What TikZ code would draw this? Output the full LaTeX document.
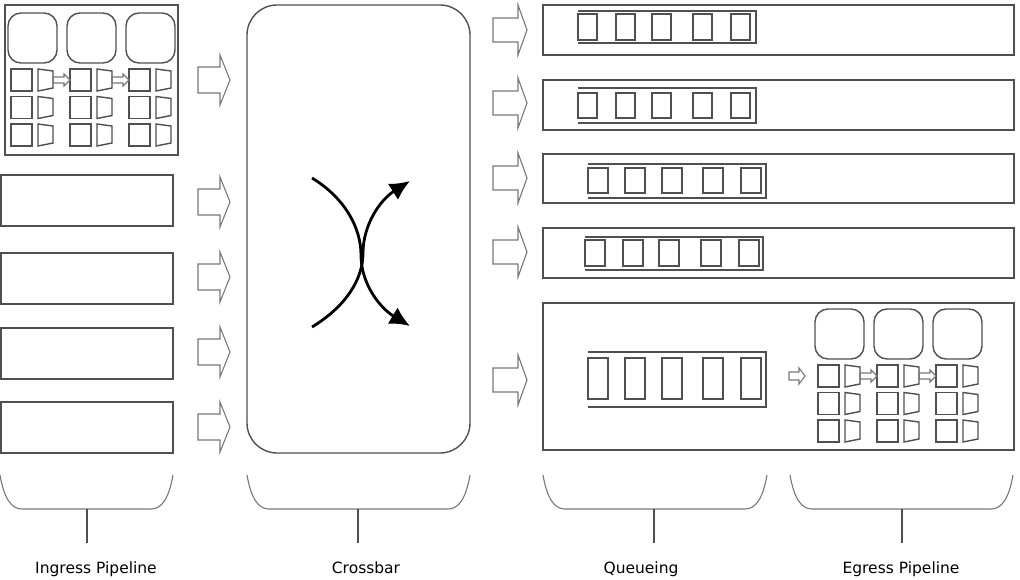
\documentclass[tikz,border=0pt]{standalone}
\usepackage{fontspec}
\setmainfont{DejaVu Sans}
\usetikzlibrary{arrows.meta}

\definecolor{linegray}{RGB}{80,80,80}
\definecolor{lightline}{RGB}{120,120,120}

\tikzset{
  boxline/.style={draw=linegray, line width=1.4pt},
  arrowline/.style={draw=lightline, line width=1.1pt, line join=miter},
  braceline/.style={draw=lightline, line width=1.1pt},
  stemline/.style={draw=linegray, line width=1.1pt},
  crossline/.style={draw=black, line width=2.8pt, -{Latex[length=20pt, width=19pt]}},
  stagelabel/.style={anchor=base, inner sep=0pt, font=\fontsize{15.5}{18}\selectfont}
}

% hollow block arrow: x, y, shaft length, head length, shaft half height, head half height
\newcommand{\hollowarrow}[6]{%
  \draw[arrowline] (#1,#2) ++(0,-#5) -- ++(#3,0) -- ++(0,#5-#6) -- ++(#4,#6)
    -- ++(-#4,#6) -- ++(0,#5-#6) -- ++(-#3,0) -- cycle;}

% match-action stages: memories on top, three rows of tables and actions
\newcommand{\stagegrid}{%
  \foreach \c in {0,1,2} {
    \draw[boxline, rounded corners=13pt] (59*\c,0) rectangle ++(49,50); % memory
    \foreach \r in {0,1,2} {
      \draw[boxline] (3+59*\c,56+27.5*\r) rectangle ++(21,22); % table
      \draw[boxline] (30+59*\c,56+27.5*\r) -- ++(15,2) -- ++(0,17) -- ++(-15,3) -- cycle; % action
    }
  }
  \foreach \c in {0,1} {
    \hollowarrow{45+59*\c}{67}{11}{6}{3}{6} % stage to stage
  }}

\begin{document}
\begin{tikzpicture}[x=1pt, y=-1pt]
  \useasboundingbox (0,0) rectangle (1020,580);

  % ingress pipeline
  \draw[boxline] (5,5) rectangle (178,155); % first pipe
  \begin{scope}[shift={(8,13)}]
    \stagegrid
  \end{scope}
  \foreach \y in {175,253,328,402} {
    \draw[boxline] (1,\y) rectangle (173,\y+51); % other pipes
  }
  \foreach \y in {80,202,277,352,427} {
    \hollowarrow{198}{\y}{22}{10}{13}{25}
  }

  % crossbar
  \draw[boxline, rounded corners=30pt] (247,5) rectangle (470,453);
  \draw[crossline] (312,178) .. controls (345,198) and (361,228) .. (361,255)
    .. controls (361,284) and (380,308) .. (410,326);
  \draw[crossline] (312,327) .. controls (345,307) and (363,280) .. (363,253)
    .. controls (363,225) and (380,200) .. (410,181);

  % queueing
  \foreach \y in {30,103,178,252,380} {
    \hollowarrow{493}{\y}{25}{9}{12}{25}
  }
  \draw[boxline] (543,5) rectangle (1014,55);
  \draw[boxline] (543,80) rectangle (1014,130);
  \draw[boxline] (543,154) rectangle (1014,203);
  \draw[boxline] (543,228) rectangle (1014,278);
  \draw[boxline] (543,303) rectangle (1014,450);

  \draw[boxline] (578,11) -- (756,11) -- (756,43) -- (578,43); % queue 1
  \foreach \x in {578,616,652,693,731} {
    \draw[boxline] (\x,14) rectangle ++(19,26);
  }
  \draw[boxline] (578,88) -- (756,88) -- (756,123) -- (578,123); % queue 2
  \foreach \x in {578,616,652,693,731} {
    \draw[boxline] (\x,93) rectangle ++(19,25);
  }
  \draw[boxline] (588,164) -- (766,164) -- (766,198) -- (588,198); % queue 3
  \foreach \x in {588,625,662,703,741} {
    \draw[boxline] (\x,168) rectangle ++(20,25);
  }
  \draw[boxline] (585,237) -- (763,237) -- (763,270) -- (585,270); % queue 4
  \foreach \x in {585,623,659,701,739} {
    \draw[boxline] (\x,240) rectangle ++(20,26);
  }
  \draw[boxline] (588,352) -- (766,352) -- (766,407) -- (588,407); % queue 5
  \foreach \x in {588,625,662,703,741} {
    \draw[boxline] (\x,358) rectangle ++(20,41);
  }

  % egress pipeline
  \hollowarrow{789}{376}{10}{6}{4}{8}
  \begin{scope}[shift={(815,309)}]
    \stagegrid
  \end{scope}

  % brackets and labels
  \foreach \xa/\xb/\xm in {0/173/87, 247/470/358, 543/767/654, 790/1013/902} {
    \draw[braceline] (\xa,475) .. controls (\xa+4,498) and (\xa+11,509) .. (\xa+22,509)
      -- (\xb-22,509) .. controls (\xb-11,509) and (\xb-4,498) .. (\xb,475);
    \draw[stemline] (\xm,509) -- (\xm,543);
  }
  \node[stagelabel] (ingress) at (96,573) {Ingress Pipeline};
  \node[stagelabel] (crossbar) at (366,573) {Crossbar};
  \node[stagelabel] (queueing) at (641,573) {Queueing};
  \node[stagelabel] (egress) at (901,573) {Egress Pipeline};
\end{tikzpicture}
\end{document}
